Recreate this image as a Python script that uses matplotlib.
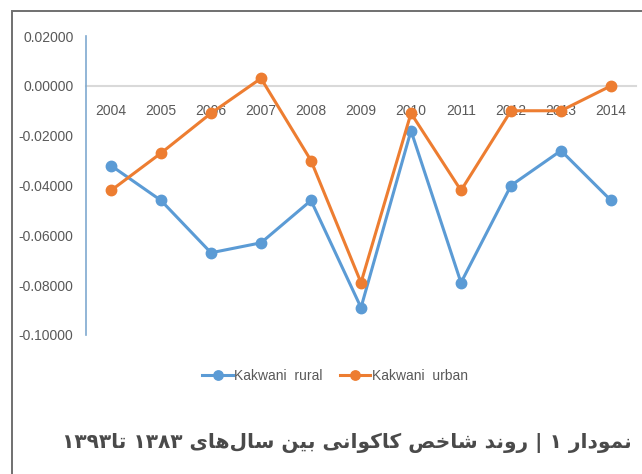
import re
import matplotlib
matplotlib.use("Agg")
import matplotlib.pyplot as plt
from matplotlib.patches import Rectangle

years = ['2004', '2005', '2006', '2007', '2008', '2009', '2010', '2011', '2012', '2013', '2014']
rural = [-0.032, -0.046, -0.067, -0.063, -0.046, -0.089, -0.018, -0.079, -0.040, -0.026, -0.046]
urban = [-0.042, -0.027, -0.011, 0.003, -0.030, -0.079, -0.011, -0.042, -0.010, -0.010, 0.000]
yticks = [0.02, 0.0, -0.02, -0.04, -0.06, -0.08, -0.10]
title = "نمودار ۱ | روند شاخص کاکوانی بین سال\u200cهای ۱۳۸۳ تا۱۳۹۳"

# matplotlib does no Arabic shaping / bidi, so pick presentation forms by hand
# letter: (isolated, final, initial, medial); None initial -> right-joining only
FORMS = {
    'ا': ('\uFE8D', '\uFE8E', None, None),
    'ب': ('\uFE8F', '\uFE90', '\uFE91', '\uFE92'),
    'ت': ('\uFE95', '\uFE96', '\uFE97', '\uFE98'),
    'خ': ('\uFEA5', '\uFEA6', '\uFEA7', '\uFEA8'),
    'د': ('\uFEA9', '\uFEAA', None, None),
    'ر': ('\uFEAD', '\uFEAE', None, None),
    'س': ('\uFEB1', '\uFEB2', '\uFEB3', '\uFEB4'),
    'ش': ('\uFEB5', '\uFEB6', '\uFEB7', '\uFEB8'),
    'ص': ('\uFEB9', '\uFEBA', '\uFEBB', '\uFEBC'),
    'ل': ('\uFEDD', '\uFEDE', '\uFEDF', '\uFEE0'),
    'م': ('\uFEE1', '\uFEE2', '\uFEE3', '\uFEE4'),
    'ن': ('\uFEE5', '\uFEE6', '\uFEE7', '\uFEE8'),
    'ه': ('\uFEE9', '\uFEEA', '\uFEEB', '\uFEEC'),
    'و': ('\uFEED', '\uFEEE', None, None),
    'ک': ('\uFB8E', '\uFB8F', '\uFB90', '\uFB91'),
    'ی': ('\uFBFC', '\uFBFD', '\uFBFE', '\uFBFF'),
}


def shape_rtl(s):
    out = []
    for i, ch in enumerate(s):
        if ch not in FORMS:
            if ch != '\u200c':
                out.append(ch)
            continue
        prev = s[i - 1] if i > 0 else ''
        nxt = s[i + 1] if i + 1 < len(s) else ''
        jp = prev in FORMS and FORMS[prev][2] is not None
        jn = FORMS[ch][2] is not None and nxt in FORMS
        iso, fin, ini, med = FORMS[ch]
        out.append(med if jp and jn else fin if jp else ini if jn else iso)
    vis = ''.join(out)[::-1]
    # digit runs keep left-to-right order
    return re.sub('[\u06F0-\u06F9]+', lambda m: m.group(0)[::-1], vis)


plt.rcParams['font.family'] = ['Liberation Sans', 'DejaVu Sans']

fig = plt.figure(figsize=(6.42, 4.74), dpi=100)
ax = fig.add_axes([86/642, 1 - 335/474, 550/642, 299/474])

x = list(range(len(years)))
ax.plot(x, rural, '-o', color='#5b9bd5', lw=2.2, ms=7.5, label='Kakwani  rural')
ax.plot(x, urban, '-o', color='#ed7d31', lw=2.2, ms=7.5, label='Kakwani  urban')

ax.set_xlim(-0.5, 10.5)
ax.set_ylim(-0.10, 0.02)
ax.set_yticks(yticks)
ax.set_yticklabels(["%.5f" % v for v in yticks])
ax.set_xticks(x)
ax.set_xticklabels(years)

# category axis crosses at zero, labels just under it
ax.spines['bottom'].set_position(('data', 0))
ax.spines['bottom'].set_color('#d9d9d9')
ax.spines['bottom'].set_linewidth(1.5)
ax.spines['bottom'].set_zorder(0)
ax.spines['left'].set_color('#7fa9cf')
ax.spines['left'].set_linewidth(1.2)
ax.spines['top'].set_visible(False)
ax.spines['right'].set_visible(False)
ax.tick_params(axis='both', length=0, colors='#595959', labelsize=10)
ax.tick_params(axis='x', pad=13)
ax.tick_params(axis='y', pad=9)

fig.legend(loc='center', bbox_to_anchor=(335/642, 1 - 376/474), ncol=2, frameon=False,
           fontsize=10, labelcolor='#595959', handlelength=2.2, handletextpad=0.1,
           columnspacing=1.2, markerscale=0.9)

# outer frame (only top and left edges visible)
fig.patches.append(Rectangle((12/642, -0.2), 1.2, 1.2 - 11/474, transform=fig.transFigure,
                             fill=False, edgecolor='#707070', lw=1.4))

fig.text(632/642, 1 - 443/474, shape_rtl(title), ha='right', va='center', fontsize=14.5,
         fontweight='bold', color='#4a4a4a', family='DejaVu Sans')

fig.savefig("out.png")
